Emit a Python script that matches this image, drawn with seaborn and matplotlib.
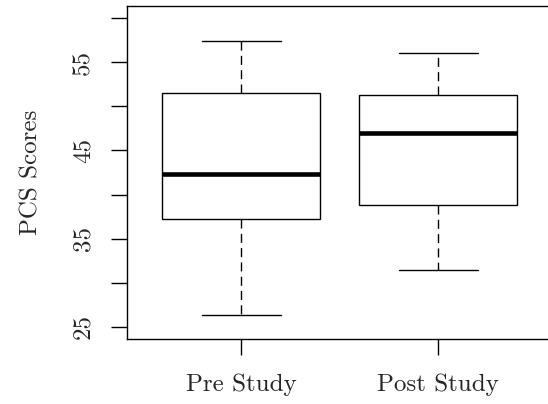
import pandas as pd
import seaborn as sns
import matplotlib.pyplot as plt

# five-number summaries: min, q1, median, q3, max
groups = ["Pre Study", "Post Study"]
pre_scores = [26.3, 37.2, 42.3, 51.5, 57.4]
post_scores = [31.4, 38.8, 47.0, 51.3, 56.1]
y_ticks = [25, 30, 35, 40, 45, 50, 55, 60]
y_tick_labels = ["25", "", "35", "", "45", "", "55", ""]

df = pd.DataFrame({
    "group": [groups[0]] * len(pre_scores) + [groups[1]] * len(post_scores),
    "score": pre_scores + post_scores,
})

sns.set_style("ticks")
plt.rcParams["font.family"] = ["cmr10", "DejaVu Serif"]
plt.rcParams["axes.formatter.use_mathtext"] = True

fig = plt.figure(figsize=(5.48, 4.04), dpi=100)
ax = fig.add_axes([0.2318, 0.1609, 0.7763, 0.8243])

sns.boxplot(data=df, x="group", y="score", order=groups, width=0.8, whis=1.5,
            color="white", linecolor="black", linewidth=1.0, ax=ax,
            whiskerprops=dict(linestyle=(0, (6.5, 3.8))),
            medianprops=dict(linewidth=3.3))

ax.set_xlim(-0.58, 1.58)
ax.set_ylim(23.6, 61.4)
ax.set_yticks(y_ticks)
ax.set_yticklabels(y_tick_labels, rotation=90, va="center")
ax.set_xlabel("")
ax.set_ylabel("PCS Scores", fontsize=18, va="center")
ax.yaxis.set_label_coords(-0.225, 0.5)

for s in ax.spines.values():
    s.set_visible(True)
    s.set_linewidth(1.0)
    s.set_color("black")
ax.tick_params(axis="both", length=11.5, width=1.0, color="black", labelsize=18)
ax.tick_params(axis="x", pad=13)
ax.tick_params(axis="y", pad=12)

fig.savefig("out.png", dpi=100)
